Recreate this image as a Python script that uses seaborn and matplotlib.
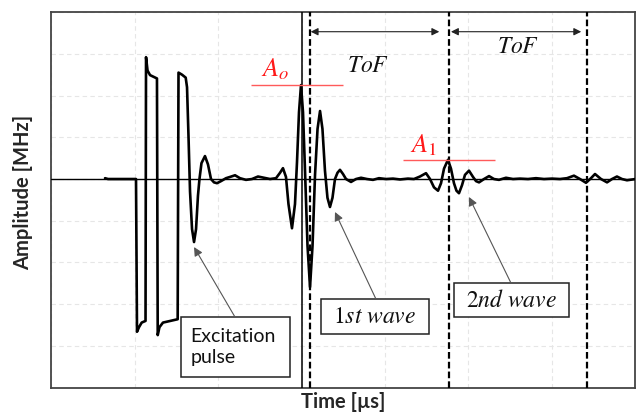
import matplotlib
matplotlib.use("Agg")
import matplotlib.pyplot as plt
from matplotlib.patches import Rectangle
import seaborn as sns
import pandas as pd

# Received ultrasonic signal: excitation pulse followed by two echoes
time_us = [0.647, 0.683, 1.018, 1.030, 1.054, 1.086, 1.132, 1.138, 1.156, 1.186,
           1.269, 1.278, 1.299, 1.341, 1.517, 1.527, 1.569, 1.613, 1.629, 1.647,
           1.665, 1.689, 1.713, 1.737, 1.760, 1.778, 1.802, 1.844, 1.880, 1.916,
           1.952, 1.988, 2.036, 2.096, 2.144, 2.204, 2.263, 2.335, 2.407, 2.479,
           2.551, 2.623, 2.695, 2.743, 2.778, 2.814, 2.844, 2.886, 2.922, 2.946,
           2.970, 2.994, 3.018, 3.042, 3.072, 3.102, 3.132, 3.162, 3.192, 3.222,
           3.251, 3.281, 3.311, 3.341, 3.371, 3.401, 3.431, 3.461, 3.497, 3.533,
           3.593, 3.653, 3.713, 3.784, 3.856, 3.928, 4.012, 4.096, 4.180, 4.275,
           4.347, 4.419, 4.491, 4.539, 4.587, 4.635, 4.671, 4.707, 4.754, 4.790,
           4.826, 4.856, 4.886, 4.922, 4.958, 5.006, 5.054, 5.090, 5.126, 5.186,
           5.246, 5.305, 5.365, 5.449, 5.533, 5.617, 5.713, 5.808, 5.904, 6.000,
           6.096, 6.180, 6.263, 6.335, 6.407, 6.467, 6.515, 6.587, 6.659, 6.719,
           6.778, 6.838, 6.898, 7.000]
amplitude = [0.02, 0.00, 0.00, -3.66, -3.55, -3.44, -3.40, 2.92, 2.60, 2.49,
             2.41, -3.74, -3.55, -3.44, -3.36, 2.55, 2.50, 2.43, 2.20, 1.00,
             -0.30, -1.20, -1.51, -1.20, -0.40, 0.00, 0.38, 0.55, 0.35, 0.00,
             -0.08, -0.10, -0.05, 0.02, 0.05, 0.09, 0.02, -0.02, 0.00, 0.06,
             0.03, 0.00, 0.02, 0.15, 0.26, 0.05, -0.60, -1.18, -0.60, 0.40,
             1.60, 2.25, 1.60, 0.20, -1.60, -2.59, -1.60, 0.10, 1.20, 1.63,
             1.20, 0.20, -0.45, -0.67, -0.45, 0.00, 0.15, 0.22, 0.12, 0.00,
             -0.07, 0.00, 0.03, 0.00, -0.02, 0.02, 0.00, 0.01, -0.01, 0.01,
             0.00, 0.06, 0.14, 0.00, -0.20, -0.28, -0.10, 0.25, 0.46, 0.25,
             -0.10, -0.28, -0.34, -0.15, 0.10, 0.20, 0.05, -0.05, -0.08, 0.00,
             0.07, 0.00, -0.02, 0.03, 0.00, 0.01, 0.00, 0.02, 0.00, 0.01,
             0.00, 0.02, 0.08, 0.00, -0.09, 0.02, 0.12, 0.00, -0.08, 0.00,
             0.06, 0.00, -0.03, 0.00]

# Reference instants (µs)
trigger_time = 3.00
echo_times = [3.10, 4.77, 6.42]

signal = pd.DataFrame({"time": time_us, "amplitude": amplitude})

sns.set_style("whitegrid", {"grid.linestyle": (0, (4, 3)), "grid.color": "#e6e6e6",
                            "axes.edgecolor": "#444444"})
plt.rcParams["font.family"] = ["Lato", "DejaVu Sans"]
plt.rcParams["mathtext.fontset"] = "stix"

fig = plt.figure(figsize=(6.36, 4.17), dpi=100)
ax = fig.add_axes([0.0802, 0.0703, 0.9190, 0.9007])

sns.lineplot(data=signal, x="time", y="amplitude", sort=False, color="black",
             linewidth=1.9, ax=ax, zorder=4)

ax.set_xlim(0, 7)
ax.set_ylim(-5, 4)
ax.set_xticks(range(0, 8))
ax.set_yticks(range(-5, 5))
ax.tick_params(labelbottom=False, labelleft=False, length=0)
ax.grid(True, linewidth=0.8)
for sp in ax.spines.values():
    sp.set_linewidth(1.3)
    sp.set_color("#444444")

# zero line and time markers
ax.axhline(0, color="black", linewidth=1.0, zorder=3)
ax.axvline(trigger_time, color="black", linewidth=1.1, zorder=3)
for t in echo_times:
    ax.axvline(t, color="black", linewidth=1.6, linestyle=(0, (3.0, 1.4)), zorder=3)

# time-of-flight arrows
arrow_y = 3.53
tof_spans = [(echo_times[0] + 0.01, echo_times[1] - 0.12),
             (echo_times[1] + 0.02, echo_times[2] - 0.07)]
for x0, x1 in tof_spans:
    ax.annotate("", xy=(x1, arrow_y), xytext=(x0, arrow_y),
                arrowprops=dict(arrowstyle="<|-|>", color="#222222", lw=0.8,
                                mutation_scale=11, shrinkA=0, shrinkB=0), zorder=5)
ax.text(3.80, 2.71, r"$ToF$", fontsize=17, ha="center", va="center", color="#111111")
ax.text(5.59, 3.17, r"$ToF$", fontsize=17, ha="center", va="center", color="#111111")

# peak amplitudes of the first and second echo
first_echo = signal[(signal.time > 2.9) & (signal.time < 3.1)]
second_echo = signal[(signal.time > 4.6) & (signal.time < 4.9)]
a0 = first_echo.amplitude.max()
a1 = second_echo.amplitude.max()
ax.hlines(a0, 2.395, 3.497, color="#ff5a5a", linewidth=1.0, zorder=5)
ax.hlines(a1, 4.216, 5.317, color="#ff5a5a", linewidth=1.0, zorder=5)
ax.text(2.68, 2.64, r"$A_o$", fontsize=19, color="#ff1a1a", ha="center", va="center")
ax.text(4.455, 0.82, r"$A_1$", fontsize=19, color="#ff1a1a", ha="center", va="center")

# callout boxes with arrows
def callout(x0, x1, y0, y1):
    ax.add_patch(Rectangle((x0, y0), x1 - x0, y1 - y0, facecolor="white",
                           edgecolor="#222222", linewidth=1.1, zorder=6))

def pointer(start, tip):
    ax.annotate("", xy=tip, xytext=start,
                arrowprops=dict(arrowstyle="-|>", color="#555555", lw=0.8,
                                mutation_scale=13, shrinkA=0, shrinkB=0,
                                facecolor="black"), zorder=6)

callout(1.557, 2.862, -4.748, -3.309)
ax.text(1.670, -4.03, "Excitation\npulse", fontsize=14, ha="left", va="center",
        linespacing=1.3, color="#111111", zorder=7)
pointer((2.204, -3.309), (1.713, -1.63))

callout(3.234, 4.527, -3.717, -2.878)
ax.text(3.880, -3.30, r"$1st\ wave$", fontsize=17, ha="center", va="center",
        color="#111111", zorder=7)
pointer((3.892, -2.878), (3.401, -0.79))

callout(4.826, 6.204, -3.309, -2.494)
ax.text(5.515, -2.90, r"$2nd\ wave$", fontsize=17, ha="center", va="center",
        color="#111111", zorder=7)
pointer((5.509, -2.494), (5.006, -0.43))

ax.set_xlabel("Time [µs]", fontsize=14.5, fontweight="bold", labelpad=3)
ax.set_ylabel("Amplitude [MHz]", fontsize=14.5, fontweight="bold")
ax.yaxis.set_label_coords(-0.030, 0.52)

fig.savefig("out.png", dpi=100)
